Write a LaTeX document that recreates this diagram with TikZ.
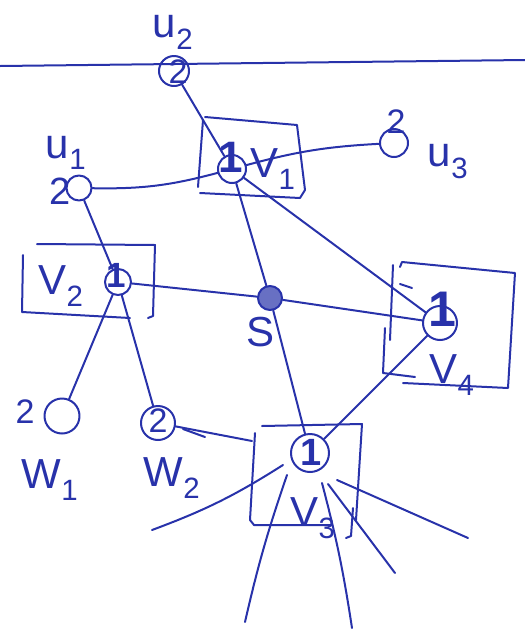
\documentclass[tikz,border=0pt]{standalone}
\usepackage{fontspec}
\setmainfont{Liberation Sans}
\definecolor{ink}{RGB}{40,50,170}
\begin{document}
\begin{tikzpicture}[x=1pt,y=-1pt,line cap=round,line join=round,
  pen/.style={draw=ink,line width=2pt},
  vtx/.style={circle,draw=ink,line width=2pt,inner sep=0pt},
  lab/.style={text=ink,inner sep=0pt,font=\fontsize{42}{44}\selectfont},
  num/.style={text=ink,inner sep=0pt,font=\fontsize{34}{36}\selectfont},
  one/.style={text=ink,inner sep=0pt,font=\bfseries}]
\useasboundingbox (0,0) rectangle (525,630);
% top line
\coordinate (la) at (0,66);
\coordinate (lb) at (525,60);
\draw[pen] (la) -- (lb);
% vertices
\node[vtx,minimum size=30pt] (u2) at (174,71) {};
\node[vtx,minimum size=28pt] (v1) at (232,169) {};
\node[vtx,minimum size=28pt] (u3) at (394,143) {};
\node[vtx,minimum size=25pt] (u1) at (79,188) {};
\node[vtx,minimum size=26pt] (v2) at (118,282) {};
\node[vtx,minimum size=24pt,fill=ink!70] (s) at (270,298) {};
\node[vtx,minimum size=34pt] (v4) at (440,323) {};
\node[vtx,minimum size=35pt] (w1) at (62,416) {};
\node[vtx,minimum size=34pt] (w2) at (158,423) {};
\node[vtx,minimum size=38pt] (v3) at (310,453) {};
% digits
\node[num] (n2) at (178,72) {2};
\node[num,font=\fontsize{38}{40}\selectfont] (n1) at (60,191) {2};
\node[num] (n3) at (396,122) {2};
\node[num] (nw1) at (25,412) {2};
\node[num] (nw2) at (158,421) {2};
\node[one,font=\fontsize{44}{46}\selectfont\bfseries] (o1) at (231,157) {1};
\node[one,font=\fontsize{35}{37}\selectfont\bfseries] (o2) at (116,275) {1};
\node[one,font=\fontsize{50}{52}\selectfont\bfseries] (o4) at (442,309) {1};
\node[one,font=\fontsize{38}{40}\selectfont\bfseries] (o3) at (311,452) {1};
% labels
\node[lab] (lu2) at (173,32) {u\textsubscript{2}};
\node[lab] (lu1) at (66,153) {u\textsubscript{1}};
\node[lab] (lu3) at (448,162) {u\textsubscript{3}};
\node[lab] (lv1) at (273,169) {V\textsubscript{1}};
\node[lab] (lv2) at (61,286) {V\textsubscript{2}};
\node[lab] (lv4) at (452,375) {V\textsubscript{4}};
\node[lab] (lv3) at (313,518) {V\textsubscript{3}};
\node[lab] (ls) at (261,332) {S};
\node[lab] (lw1) at (50,480) {W\textsubscript{1}};
\node[lab] (lw2) at (172,478) {W\textsubscript{2}};
% boxes
\draw[pen] (203,120) -- (198,187);
\draw[pen] (205,117) -- (297,125) -- (305,190) -- (300,198) -- (200,193);
\draw[pen] (37,244) -- (155,245) -- (153,316) -- (148,318);
\draw[pen] (23,255) -- (22,312) -- (130,318);
\draw[pen] (400,267) -- (402,262) -- (515,273) -- (508,388) -- (403,383);
\draw[pen] (393,265) -- (390,340);
\draw[pen] (385,328) -- (383,373) -- (415,377);
\draw[pen] (262,426) -- (362,424) -- (356,520);
\draw[pen] (255,433) -- (250,520) -- (254,525) -- (332,525);
\draw[pen] (353,508) -- (351,536) -- (346,538);
% edges
\draw[pen] (u2) -- (v1);
\draw[pen] (u1) to[bend right=8] (v1);
\draw[pen] (v1) to[bend left=6] (u3);
\draw[pen] (u1) -- (v2);
\draw[pen] (v1) -- (s);
\draw[pen] (v1) -- (v4);
\draw[pen] (v2) -- (s);
\draw[pen] (s) -- (v4);
\draw[pen] (s) -- (v3);
\draw[pen] (v2) -- (w1);
\draw[pen] (v2) -- (w2);
\draw[pen] (v4) -- (v3);
% stray tick near v4
\coordinate (t1) at (400,284);
\coordinate (t2) at (412,288);
\draw[pen] (t1) -- (t2);
% pendant edges
\coordinate (c1) at (252,441);
\draw[pen] (w2) -- (c1);
\coordinate (c2a) at (183,429);
\coordinate (c2b) at (205,437);
\draw[pen] (c2a) -- (c2b);
\coordinate (a1) at (283,465);
\coordinate (b1) at (152,530);
\draw[pen] (a1) to[bend left=6] (b1);
\coordinate (a2) at (287,475);
\coordinate (b2) at (245,622);
\draw[pen] (a2) to[bend right=3] (b2);
\coordinate (a3) at (322,483);
\coordinate (b3) at (352,628);
\draw[pen] (a3) to[bend left=3] (b3);
\coordinate (a4) at (328,484);
\coordinate (b4) at (395,573);
\draw[pen] (a4) -- (b4);
\coordinate (a5) at (337,480);
\coordinate (b5) at (468,538);
\draw[pen] (a5) -- (b5);
\end{tikzpicture}
\end{document}
